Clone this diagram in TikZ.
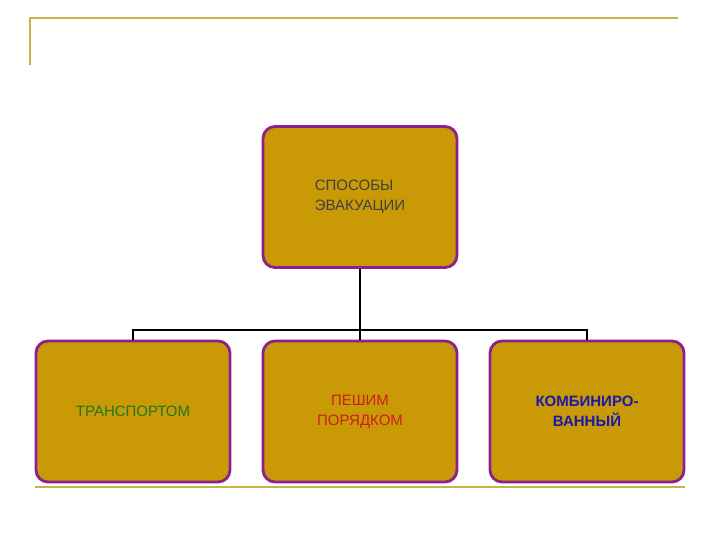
\documentclass[tikz,border=0pt]{standalone}
\usepackage{fontspec}
\setmainfont{Liberation Sans}
\begin{document}
\begin{tikzpicture}[x=1pt,y=-1pt,
  box/.style={draw=boxborder,line width=2.8pt,fill=boxfill,rounded corners=12pt,minimum width=194pt,minimum height=141pt,inner sep=0pt,align=center,font=\fontsize{15}{20}\selectfont},
  deco/.style={draw=decocol,line width=1.3pt},
  conn/.style={draw=black,line width=1.6pt}]
\definecolor{boxfill}{HTML}{C99A05}
\definecolor{boxborder}{HTML}{8E1F8E}
\definecolor{decocol}{HTML}{C8B24A}
\useasboundingbox (0,0) rectangle (720,540);
\fill[white] (0,0) rectangle (720,540);
\coordinate (d1) at (30,65); \coordinate (d2) at (30,18); \coordinate (d3) at (678,18);
\draw[deco] (d1) -- (d2) -- (d3);
\coordinate (e1) at (35,487); \coordinate (e2) at (685,487);
\draw[deco] (e1) -- (e2);
\node[box,text=black!75,align=left] (top) at (360,197) {СПОСОБЫ\\ЭВАКУАЦИИ};
\node[box,text={rgb,255:red,30;green,120;blue,30}] (b1) at (133,411.5) {ТРАНСПОРТОМ};
\node[box,text={rgb,255:red,205;green,30;blue,30}] (b2) at (360,411.5) {ПЕШИМ\\ПОРЯДКОМ};
\node[box,text={rgb,255:red,25;green,25;blue,170},font=\fontsize{15}{20}\selectfont\bfseries] (b3) at (587,411.5) {КОМБИНИРО-\\ВАННЫЙ};
\coordinate (j) at (360,330);
\draw[conn] (top.south) -- (j);
\draw[conn] (b1.north) |- (j) -| (b3.north);
\draw[conn] (j) -- (b2.north);
\end{tikzpicture}
\end{document}
